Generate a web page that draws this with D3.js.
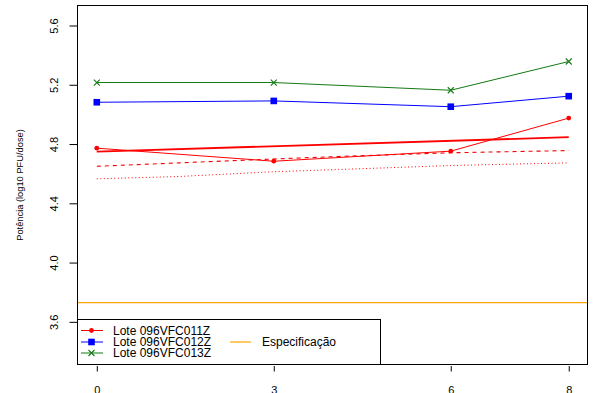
<!DOCTYPE html>
<html>
<head>
<meta charset="utf-8">
<script src="https://cdn.jsdelivr.net/npm/d3@7"></script>
<style>
  body { margin: 0; background: #fff; }
  svg { display: block; font-family: "Liberation Sans", Arial, sans-serif; }
</style>
</head>
<body>
<svg id="chart" width="594" height="393"></svg>
<script>
// data
const months = [0, 3, 6, 8];
const lote011 = [4.772, 4.684, 4.752, 4.975];
const lote012 = [5.082, 5.091, 5.052, 5.123];
const lote013 = [5.215, 5.215, 5.163, 5.357];

// fitted line and lower bands for lote 011
const fitX = [0, 8];
const fitY = [4.749, 4.846];
const bandX = [0, 1.4, 3, 4.1, 6, 8];
const bandDashed = [4.650, 4.673, 4.699, 4.716, 4.741, 4.756];
const bandDotted = [4.565, 4.581, 4.613, 4.628, 4.655, 4.673];

const especificacao = 3.73;

const yTicks = [3.6, 4.0, 4.4, 4.8, 5.2, 5.6];
const xTicks = [0, 3, 6, 8];

const series = [
  {name: 'Lote 096VFC011Z', values: lote011, color: '#ff0000', shape: 'circle'},
  {name: 'Lote 096VFC012Z', values: lote012, color: '#0000ff', shape: 'square'},
  {name: 'Lote 096VFC013Z', values: lote013, color: '#137a13', shape: 'cross'},
];

const spec_color = '#ffa500';

// ===============================================================
// plot box and scales
const box = {left: 77.5, right: 587.5, top: 5.5, bottom: 364.5};

const svg = d3.select('#chart');

const x = d3.scaleLinear()
  .domain([-0.327, 8.318])
  .range([box.left, box.right]);

const y = d3.scaleLinear()
  .domain([3.312, 5.735])
  .range([box.bottom, box.top]);

const g = svg.append('g');

// ===============================================================
// axes
const yAxis = g.append('g')
  .attr('transform', `translate(${box.left},0)`)
  .call(d3.axisLeft(y).tickValues(yTicks).tickSize(8).tickFormat(d3.format('.1f')));
yAxis.select('.domain').remove();
yAxis.selectAll('.tick line').attr('stroke', '#000');
yAxis.selectAll('.tick text')
  .attr('x', null).attr('dy', null)
  .attr('text-anchor', 'middle')
  .attr('transform', d => `translate(-19.5,0) rotate(-90)`)
  .attr('fill', '#000')
  .style('font-size', '11px');

const xAxis = g.append('g')
  .attr('transform', `translate(0,${box.bottom + 1.5})`)
  .call(d3.axisBottom(x).tickValues(xTicks).tickSize(5.5).tickFormat(d3.format('d')));
xAxis.select('.domain').remove();
xAxis.selectAll('.tick line').attr('stroke', '#000');
xAxis.selectAll('.tick text')
  .attr('y', 28).attr('dy', null)
  .attr('fill', '#000')
  .style('font-size', '11px');

g.append('text')
  .attr('transform', `translate(23,${(box.top + box.bottom) / 2}) rotate(-90)`)
  .attr('text-anchor', 'middle')
  .style('font-size', '9.3px')
  .text('Potência (log10 PFU/dose)');

// ===============================================================
// specification line
g.append('line')
  .attr('x1', box.left).attr('x2', box.right)
  .attr('y1', y(especificacao)).attr('y2', y(especificacao))
  .attr('stroke', spec_color)
  .attr('stroke-width', 1.2);

// ===============================================================
// fit and bands
const line = d3.line()
  .x(d => x(d[0]))
  .y(d => y(d[1]));

g.append('path')
  .attr('d', line(d3.zip(bandX, bandDotted)))
  .attr('fill', 'none')
  .attr('stroke', '#ff0000')
  .attr('stroke-width', 1)
  .attr('stroke-dasharray', '1 2.5');

g.append('path')
  .attr('d', line(d3.zip(bandX, bandDashed)))
  .attr('fill', 'none')
  .attr('stroke', '#ff0000')
  .attr('stroke-width', 1.1)
  .attr('stroke-dasharray', '4 4');

g.append('path')
  .attr('d', line(d3.zip(fitX, fitY)))
  .attr('fill', 'none')
  .attr('stroke', '#ff0000')
  .attr('stroke-width', 1.8);

// ===============================================================
// lotes
series.forEach(s => {
  const pts = d3.zip(months, s.values);
  g.append('path')
    .attr('d', line(pts))
    .attr('fill', 'none')
    .attr('stroke', s.color)
    .attr('stroke-width', 1);

  pts.forEach(p => draw_marker(g, x(p[0]), y(p[1]), s));
});

// plot frame
g.append('rect')
  .attr('x', box.left).attr('y', box.top)
  .attr('width', box.right - box.left)
  .attr('height', box.bottom - box.top)
  .attr('fill', 'none')
  .attr('stroke', '#000');

// ===============================================================
// legend
const legend = g.append('g');
legend.append('rect')
  .attr('x', box.left).attr('y', 319.5)
  .attr('width', 380.5 - box.left)
  .attr('height', box.bottom - 319.5)
  .attr('fill', '#fff')
  .attr('stroke', '#000');

const rowY = [330.5, 342, 353];
series.forEach((s, i) => {
  legend.append('line')
    .attr('x1', 81).attr('x2', 103)
    .attr('y1', rowY[i]).attr('y2', rowY[i])
    .attr('stroke', s.color);
  draw_marker(legend, 91.5, rowY[i], s);
  legend.append('text')
    .attr('x', 113).attr('y', rowY[i] + 4.3)
    .style('font-size', '12px')
    .text(s.name);
});

legend.append('line')
  .attr('x1', 230).attr('x2', 251)
  .attr('y1', rowY[1]).attr('y2', rowY[1])
  .attr('stroke', spec_color)
  .attr('stroke-width', 1.2);
legend.append('text')
  .attr('x', 262).attr('y', rowY[1] + 4.3)
  .style('font-size', '12px')
  .text('Especificação');

// ===============================================================
function draw_marker(sel, cx, cy, s) {
  if (s.shape === 'circle') {
    sel.append('circle')
      .attr('cx', cx).attr('cy', cy).attr('r', 2.4)
      .attr('fill', s.color);
  } else if (s.shape === 'square') {
    sel.append('rect')
      .attr('x', cx - 3.3).attr('y', cy - 3.3)
      .attr('width', 6.6).attr('height', 6.6)
      .attr('fill', s.color);
  } else {
    const r = 3;
    sel.append('path')
      .attr('d', `M${cx - r},${cy - r}L${cx + r},${cy + r}M${cx - r},${cy + r}L${cx + r},${cy - r}`)
      .attr('stroke', s.color)
      .attr('stroke-width', 1.1)
      .attr('fill', 'none');
  }
}
</script>
</body>
</html>
